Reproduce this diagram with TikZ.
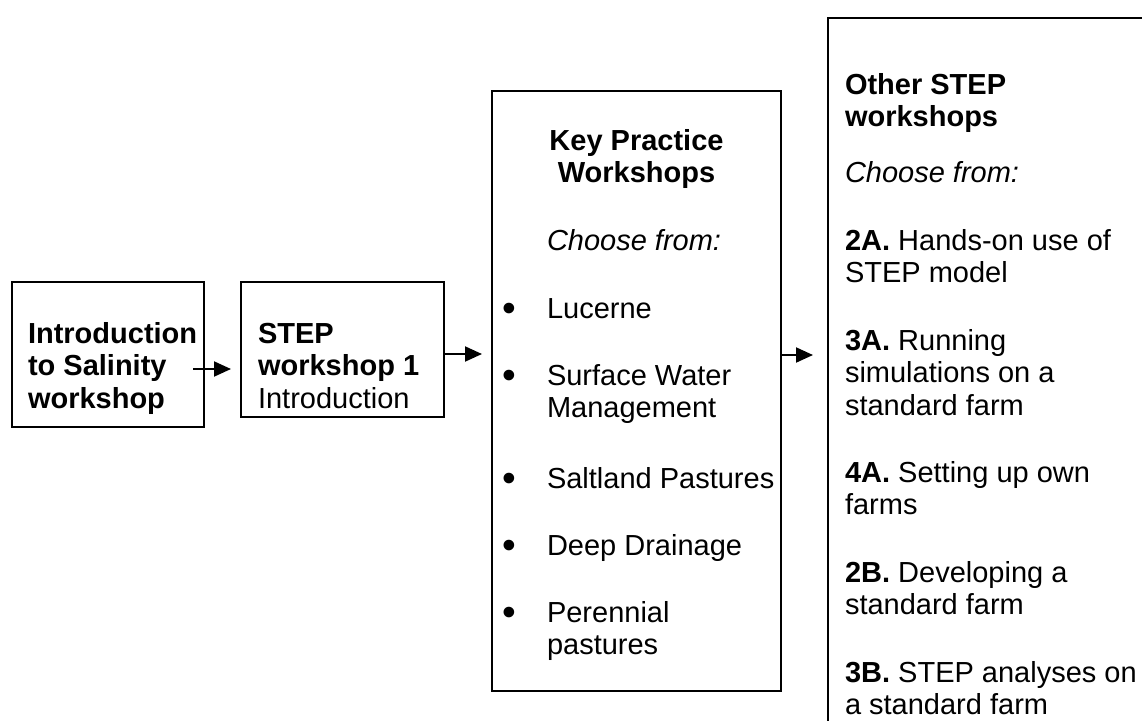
\documentclass[tikz,border=0pt]{standalone}
\usepackage{fontspec}
\setmainfont{Liberation Sans}
\usetikzlibrary{arrows.meta}
\newcommand\myfs{\fontsize{29pt}{32.5pt}\selectfont}
\newcommand\para[2]{\parbox[t]{#1}{\myfs\raggedright #2}}
\begin{document}
\begin{tikzpicture}[x=1pt,y=-1pt,
  box/.style={draw,line width=2pt,inner sep=0pt,outer sep=0pt,anchor=north west},
  txt/.style={inner sep=0pt,outer sep=0pt,anchor=base west},
  bul/.style={inner sep=0pt,outer sep=0pt,anchor=base},
  arr/.style={line width=2pt,-{Triangle[length=17pt,width=15pt]}}]
\useasboundingbox (0,0) rectangle (1142,720);
\clip (0,0) rectangle (1142,720);
\fill[white] (0,0) rectangle (1142,720);
% boxes
\node[box,minimum width=192pt,minimum height=145pt] (b1) at (12,282) {};
\node[box,minimum width=203pt,minimum height=135pt] (b2) at (241,282) {};
\node[box,minimum width=289pt,minimum height=600pt] (b3) at (492,91) {};
\node[box,minimum width=400pt,minimum height=800pt] (b4) at (828,18) {};
% box 1 text
\node[txt] (t1) at (28,343) {\para{180pt}{\textbf{Introduction}\\\textbf{to Salinity}\\\textbf{workshop}}};
% box 2 text
\node[txt] (t2) at (258,343) {\para{185pt}{\textbf{STEP}\\\textbf{workshop 1}\\Introduction}};
% box 3 text
\node[txt] (t3a) at (492,150) {\parbox[t]{289pt}{\myfs\centering\textbf{Key Practice}\\\textbf{Workshops}}};
\node[txt] (t3b) at (547,250) {\para{230pt}{\textit{Choose from:}}};
\foreach \y/\n in {318/u1,385/u2,488/u3,555/u4,622/u5}
  \node[bul] (\n) at (509,\y) {\myfs\raisebox{-3.3pt}{\scalebox{1.35}{\textbullet}}};
\node[txt] (i1) at (547,318) {\para{240pt}{Lucerne}};
\node[txt] (i2) at (547,385) {\para{240pt}{Surface Water\\Management}};
\node[txt] (i3) at (547,488) {\para{240pt}{Saltland Pastures}};
\node[txt] (i4) at (547,555) {\para{240pt}{Deep Drainage}};
\node[txt] (i5) at (547,622) {\para{240pt}{Perennial\\pastures}};
% box 4 text
\node[txt] (t4a) at (845,94) {\para{300pt}{\textbf{Other STEP}\\\textbf{workshops}}};
\node[txt] (t4b) at (845,182) {\para{300pt}{\textit{Choose from:}}};
\node[txt] (o1) at (845,250) {\para{300pt}{\textbf{2A.} Hands-on use of\\STEP model}};
\node[txt] (o2) at (845,350) {\para{300pt}{\textbf{3A.} Running\\simulations on a\\standard farm}};
\node[txt] (o3) at (845,482) {\para{300pt}{\textbf{4A.} Setting up own\\farms}};
\node[txt] (o4) at (845,582) {\para{300pt}{\textbf{2B.} Developing a\\standard farm}};
\node[txt] (o5) at (845,682) {\para{300pt}{\textbf{3B.} STEP analyses on\\a standard farm}};
% connectors
\coordinate (a1s) at (193,369);
\coordinate (a1e) at (231,369);
\coordinate (a2e) at (482,354);
\coordinate (a3e) at (813,355);
\draw[arr] (a1s) -- (a1e);
\draw[arr] (b2.east |- a2e) -- (a2e);
\draw[arr] (b3.east |- a3e) -- (a3e);
\end{tikzpicture}
\end{document}
